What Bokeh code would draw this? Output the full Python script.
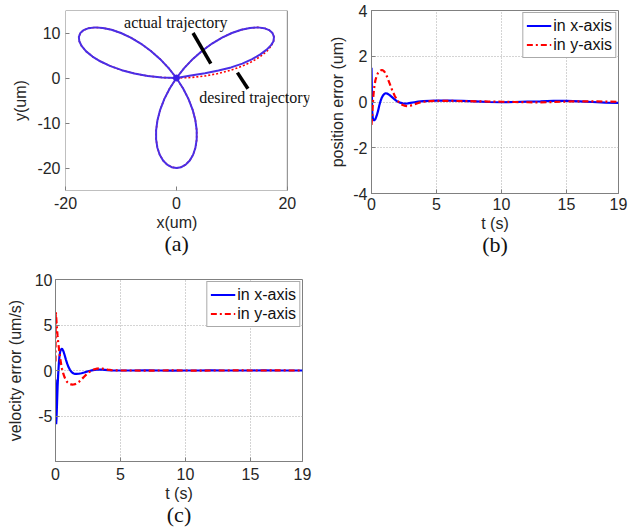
from bokeh.plotting import figure
from bokeh.models import (Legend, LegendItem, Label, Title, FixedTicker, Range1d,
                          BoxAnnotation)
from bokeh.layouts import column, row
from bokeh.embed import file_html
from bokeh.resources import INLINE

# ---------------- (a) trajectory ----------------
des_x = [0, 2.61, 5.16, 7.59, 9.85, 11.89, 13.66, 15.13, 16.28, 17.07, 17.51, 17.59, 17.32,
         16.72, 15.83, 14.66, 13.27, 11.70, 10.00, 8.23, 6.43, 4.66, 2.97, 1.40, 0,
         -1.21, -2.19, -2.93, -3.42, -3.66, -3.66, -3.43, -3.01, -2.41, -1.68, -0.86, 0,
         0.86, 1.68, 2.41, 3.01, 3.43, 3.66, 3.66, 3.42, 2.93, 2.19, 1.21, 0,
         -1.40, -2.97, -4.66, -6.43, -8.23, -10.00, -11.70, -13.27, -14.66, -15.83, -16.72,
         -17.32, -17.59, -17.51, -17.07, -16.28, -15.13, -13.66, -11.89, -9.85, -7.59, -5.16, -2.61, 0]
des_y = [0, 0.11, 0.45, 1.00, 1.74, 2.64, 3.66, 4.77, 5.92, 7.07, 8.16, 9.16, 10.00,
         10.65, 11.08, 11.25, 11.13, 10.72, 10.00, 8.98, 7.66, 6.07, 4.24, 2.20, 0,
         -2.32, -4.69, -7.07, -9.40, -11.61, -13.66, -15.49, -17.06, -18.32, -19.25, -19.81, -20,
         -19.81, -19.25, -18.32, -17.06, -15.49, -13.66, -11.61, -9.40, -7.07, -4.69, -2.32, 0,
         2.20, 4.24, 6.07, 7.66, 8.98, 10.00, 10.72, 11.13, 11.25, 11.08, 10.65,
         10.00, 9.16, 8.16, 7.07, 5.92, 4.77, 3.66, 2.64, 1.74, 1.00, 0.45, 0.11, 0]
act_x = list(des_x)
act_y = [0, 0.55, 1.05, 1.65, 2.35, 3.20, 4.20, 5.25, 6.30, 7.30] + des_y[10:]

annot_xs = [[3.0, 6.2], [11.0, 12.9]]
annot_ys = [[10.0, 3.2], [1.2, -2.4]]
annot_text = ["actual trajectory", "desired trajectory"]
annot_tx = [-0.1, 4.1]
annot_ty = [12.4, -4.3]

# ---------------- (b) position error ----------------
pos_t = [0, 0.05, 0.1, 0.15, 0.2, 0.3, 0.4, 0.5, 0.6, 0.7, 0.8, 0.9, 1.0, 1.1, 1.2, 1.4, 1.6,
         1.8, 2.0, 2.2, 2.4, 2.6, 2.8, 3.0, 3.3, 3.6, 4.0, 4.5, 5, 6, 7, 8, 9, 10, 11, 12, 13,
         14, 15, 16, 17, 18, 19]
pos_x = [1.5, -0.4, -0.7, -0.78, -0.8, -0.75, -0.6, -0.4, -0.15, 0.05, 0.2, 0.3, 0.36, 0.38,
         0.37, 0.3, 0.2, 0.1, 0.02, -0.03, -0.06, -0.07, -0.06, -0.04, -0.01, 0.02, 0.04, 0.05,
         0.06, 0.06, 0.05, 0.03, 0.0, -0.01, 0.0, 0.02, 0.03, 0.05, 0.05, 0.03, 0.0, -0.03, -0.04]
pos_y = [-1.0, -0.6, -0.1, 0.3, 0.6, 0.95, 1.15, 1.27, 1.34, 1.38, 1.4, 1.38, 1.32, 1.22, 1.1,
         0.8, 0.5, 0.25, 0.06, -0.06, -0.13, -0.17, -0.18, -0.16, -0.1, -0.04, 0.01, 0.04,
         0.05, 0.05, 0.04, 0.03, 0.02, 0.01, 0.0, -0.01, -0.02, 0.0, 0.02, 0.03, 0.03, 0.02, 0.01]

# ---------------- (c) velocity error ----------------
vel_t = [0, 0.02, 0.05, 0.08, 0.12, 0.16, 0.2, 0.25, 0.3, 0.35, 0.4, 0.45, 0.5, 0.6, 0.7, 0.8,
         0.9, 1.0, 1.1, 1.2, 1.3, 1.4, 1.5, 1.6, 1.8, 2.0, 2.2, 2.4, 2.6, 2.8, 3.0, 3.2, 3.4,
         3.6, 3.8, 4.0, 4.3, 4.6, 5, 6, 7, 8, 9, 10, 11, 12, 13, 14, 15, 16, 17, 18, 19]
vel_x = [-1.0, -3.5, -5.9, -5.2, -3.5, -1.8, -0.6, 0.6, 1.5, 2.0, 2.25, 2.35, 2.4, 2.15, 1.7,
         1.2, 0.75, 0.38, 0.1, -0.1, -0.25, -0.33, -0.37, -0.38, -0.36, -0.3, -0.22, -0.13,
         -0.05, 0.02, 0.07, 0.1, 0.11, 0.1, 0.07, 0.04, 0.01, 0.0, 0.0, 0.0, 0.01, 0.0, -0.01,
         0.0, 0.0, 0.01, 0.0, 0.0, 0.0, 0.01, 0.0, 0.0, 0.0]
vel_y = [1.0, 6.5, 6.0, 5.3, 4.5, 3.8, 3.2, 2.6, 2.0, 1.5, 1.0, 0.55, 0.2, -0.35, -0.75, -1.05,
         -1.27, -1.4, -1.48, -1.53, -1.55, -1.54, -1.5, -1.44, -1.25, -0.98, -0.68, -0.4, -0.16,
         0.02, 0.14, 0.21, 0.23, 0.21, 0.16, 0.1, 0.04, 0.01, 0.0, 0.0, -0.01, 0.0, 0.01, 0.0,
         -0.01, 0.0, 0.0, 0.01, 0.0, 0.0, 0.01, 0.0, 0.0]

t_ticks = [0, 5, 10, 15, 19]
pos_ticks = [-4, -2, 0, 2, 4]
vel_ticks = [-5, 0, 5, 10]
ax_ticks = [-20, 0, 20]
ay_ticks = [-20, -10, 0, 10]

SANS = "Liberation Sans"
SERIF = "Liberation Serif"
FRAME = "#808080"
BLUE = "#0000ff"
RED = "#ff0000"


def style_axes(p, xt, yt, ylab_standoff, ytick_standoff, xtick_standoff=6):
    p.xaxis.ticker = FixedTicker(ticks=xt)
    p.yaxis.ticker = FixedTicker(ticks=yt)
    p.xaxis.major_label_overrides = {t: str(t) for t in xt}
    p.yaxis.major_label_overrides = {t: str(t) for t in yt}
    for ax in (p.xaxis[0], p.yaxis[0]):
        ax.axis_line_color = FRAME
        ax.major_tick_line_color = FRAME
        ax.major_tick_in = 4
        ax.major_tick_out = 0
        ax.minor_tick_line_color = None
        ax.major_label_text_font = SANS
        ax.major_label_text_font_size = "16px"
        ax.major_label_text_color = "#262626"
        ax.axis_label_text_font = SANS
        ax.axis_label_text_font_size = "16px"
        ax.axis_label_text_font_style = "normal"
        ax.axis_label_text_color = "#262626"
    p.xaxis.major_label_standoff = xtick_standoff
    p.yaxis.major_label_standoff = ytick_standoff
    p.yaxis.axis_label_standoff = ylab_standoff


def add_grid(p, on):
    if on:
        for g in (p.xgrid[0], p.ygrid[0]):
            g.grid_line_color = "#a8a8a8"
            g.grid_line_dash = "1 2"
            g.grid_line_width = 1
    else:
        p.xgrid.grid_line_color = None
        p.ygrid.grid_line_color = None


def xlabel(text, align="center", offset=0):
    return Title(text=text, align=align, offset=offset, text_font=SANS,
                 text_font_size="16px", text_font_style="normal",
                 text_color="#262626", standoff=0)


def caption(text, align="center", offset=0):
    return Title(text=text, align=align, offset=offset, text_font=SERIF,
                 text_font_size="22px", text_font_style="normal",
                 text_color="#111111", standoff=0, vertical_align="top",
                 text_line_height=1.0)


def add_legend(p, r1, r2):
    leg = Legend(items=[LegendItem(label="in x-axis", renderers=[r1]),
                        LegendItem(label="in y-axis", renderers=[r2])],
                 location="top_right")
    leg.margin = 2
    leg.padding = 3
    leg.spacing = 0
    leg.border_line_color = "#555555"
    leg.border_line_width = 1
    leg.background_fill_alpha = 1
    leg.label_text_font = SANS
    leg.label_text_font_size = "16px"
    leg.label_text_color = "#111111"
    leg.glyph_width = 25
    leg.glyph_height = 19
    leg.label_height = 19
    leg.label_standoff = 2
    p.add_layout(leg)


# (a)  x range extended to the right so the note text is not cut; box drawn at +-20
pa = figure(output_backend="svg", toolbar_location=None,
            frame_width=244, frame_height=180,
            min_border_left=65, min_border_right=8, min_border_top=10, min_border_bottom=80,
            x_range=Range1d(-20, 24), y_range=Range1d(-25, 15))
style_axes(pa, ax_ticks, ay_ticks, ylab_standoff=5, ytick_standoff=5)
add_grid(pa, False)
pa.outline_line_color = None
pa.xaxis.axis_line_color = None
pa.yaxis.axis_line_color = None
pa.yaxis.axis_label = "y(um)"
pa.add_layout(BoxAnnotation(left=ax_ticks[0], right=ax_ticks[-1], bottom=-25, top=15,
                            fill_alpha=0, line_color=FRAME, line_alpha=1, line_width=1))
pa.add_layout(xlabel("x(um)", align="left", offset=91), "below")
pa.add_layout(caption("(a)", align="left", offset=99), "below")
pa.line(des_x, des_y, line_color=RED, line_width=1.6, line_dash="2 2")
pa.line(act_x, act_y, line_color="#4a2ee6", line_width=2)
pa.scatter(act_x[:1], act_y[:1], size=6, color="#3a1ee6")
pa.multi_line(annot_xs, annot_ys, line_color="black", line_width=3.5)
pa.add_layout(Label(x=annot_tx[0], y=annot_ty[0], text=annot_text[0], text_align="center",
                    text_baseline="middle", text_font=SERIF, text_font_size="16px",
                    text_color="#111111"))
pa.add_layout(Label(x=annot_tx[1], y=annot_ty[1], text=annot_text[1], text_align="left",
                    text_baseline="middle", text_font=SERIF, text_font_size="16px",
                    text_color="#111111"))

# (b)
pb = figure(output_backend="svg", toolbar_location=None,
            frame_width=247, frame_height=183,
            min_border_left=54, min_border_right=10, min_border_top=8, min_border_bottom=79,
            x_range=Range1d(0, 19), y_range=Range1d(-4, 4))
style_axes(pb, t_ticks, pos_ticks, ylab_standoff=4, ytick_standoff=4, xtick_standoff=4)
add_grid(pb, True)
pb.outline_line_color = FRAME
pb.yaxis.axis_label = "position error (um)"
pb.add_layout(xlabel("t (s)"), "below")
pb.add_layout(caption("(b)"), "below")
rb1 = pb.line(pos_t, pos_x, line_color=BLUE, line_width=2.2)
rb2 = pb.line(pos_t, pos_y, line_color=RED, line_width=2.2, line_dash="6 3 2 3")
add_legend(pb, rb1, rb2)

# (c)
pc = figure(output_backend="svg", toolbar_location=None,
            frame_width=247, frame_height=182,
            min_border_left=55, min_border_right=10, min_border_top=9, min_border_bottom=65,
            x_range=Range1d(0, 19), y_range=Range1d(-10, 10))
style_axes(pc, t_ticks, vel_ticks, ylab_standoff=8, ytick_standoff=3)
add_grid(pc, True)
pc.outline_line_color = FRAME
pc.yaxis.axis_label = "velocity error (um/s)"
pc.add_layout(xlabel("t (s)"), "below")
pc.add_layout(caption("(c)"), "below")
rc1 = pc.line(vel_t, vel_x, line_color=BLUE, line_width=2.2)
rc2 = pc.line(vel_t, vel_y, line_color=RED, line_width=2.2, line_dash="6 3 2 3")
add_legend(pc, rc1, rc2)

layout = column(row(pa, pb), pc)
open("out.html", "w").write(file_html(layout, INLINE))
